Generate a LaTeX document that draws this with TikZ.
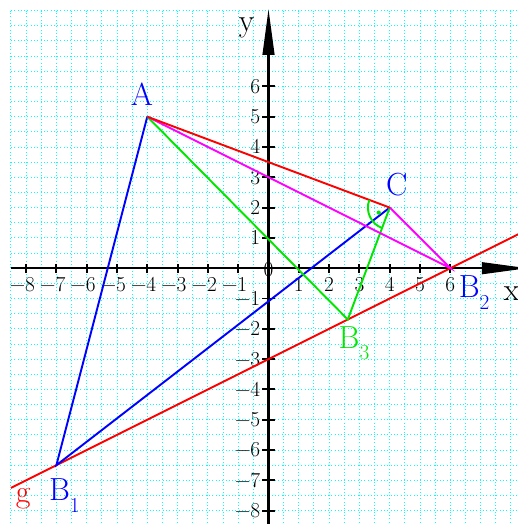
\documentclass[tikz,border=0pt]{standalone}
\usepackage{fontspec}
\usetikzlibrary{arrows.meta}

\definecolor{gridcyan}{RGB}{0,255,255}
\definecolor{segblue}{RGB}{0,0,255}
\definecolor{seggreen}{RGB}{0,230,0}
\definecolor{segmagenta}{RGB}{255,0,255}
\definecolor{segred}{RGB}{255,0,0}

\newcommand{\lowidx}[1]{\raisebox{-0.38cm}{\fontsize{20}{24}\selectfont #1}}

\begin{document}
\begin{tikzpicture}[
  gridline/.style={gridcyan, line width=0.9pt, dash pattern=on 0.9pt off 2.2pt},
  axis/.style={black, line width=2.4pt},
  tickmark/.style={black, line width=1.8pt},
  ticklabel/.style={inner sep=0pt, font=\fontsize{20}{24}\selectfont},
  ptlabel/.style={inner sep=0pt, font=\fontsize{30}{36}\selectfont},
  seg/.style={line width=1.8pt}
]
\useasboundingbox (-8.86,-8.44) rectangle (8.23,8.85);
\clip (-8.86,-8.44) rectangle (8.23,8.85);

% grid and axes
\draw[gridline] (-8.5,-8.5) grid[step=0.5] (8.5,8.5);
\draw[axis, -{Triangle[length=1.52cm, width=0.38cm]}] (-8.5,0) -- (8.56,0);
\draw[axis, -{Triangle[length=1.52cm, width=0.38cm]}] (0,-8.6) -- (0,8.56);

\foreach \k in {1,...,8} {
  \draw[tickmark] (-\k,-0.15) -- (-\k,0.15);
  \draw[tickmark] (-0.2,-\k) -- (0.2,-\k);
  \node[ticklabel, anchor=base] at (-\k-0.12,-0.77) {−\k};
  \node[ticklabel, anchor=base east] at (-0.27,-\k-0.227) {−\k};
}
\foreach \k in {1,...,6} {
  \draw[tickmark] (\k,-0.15) -- (\k,0.15);
  \draw[tickmark] (-0.2,\k) -- (0.2,\k);
  \node[ticklabel, anchor=base] at (\k,-0.77) {\k};
  \node[ticklabel, anchor=base east] at (-0.27,\k-0.227) {\k};
}
\node[ticklabel] (zero) at (0,-0.05) {0};
\node[ptlabel] (laby) at (-0.72,7.93) {y};
\node[ptlabel] (labx) at (8.02,-0.85) {x};

% points
\coordinate (A) at (-4,5);
\coordinate (C) at (4,2);
\coordinate (B1) at (-7,-6.5);
\coordinate (B2) at (6,0);
\coordinate (B3) at (2.6154,-1.6923);
\coordinate (gL) at (-8.5,-7.25);
\coordinate (gR) at (8.5,1.25);

% line g and triangles
\draw[seg, segred] (gL) -- (gR);
\draw[seg, segblue] (A) -- (B1) -- (C);
\draw[seg, seggreen] (A) -- (B3) -- (C);
\draw[seg, segmagenta] (A) -- (B2) -- (C);
\draw[seg, segred] (A) -- (C);

% right angle at C
\draw[seg, seggreen] (C) ++(159.44:0.72) arc[start angle=159.44, end angle=249.44, radius=0.72];
\fill[seggreen] (C) ++(204.44:0.4) circle[radius=0.07];

\node[ptlabel, segblue] (labA) at (-4.18,5.75) {A};
\node[ptlabel, segblue] (labC) at (4.23,2.75) {C};
\node[ptlabel, segblue, anchor=base west] (labB1) at (-7.25,-7.68) {B\lowidx{1}};
\node[ptlabel, segblue, anchor=base west] (labB2) at (6.27,-0.97) {B\lowidx{2}};
\node[ptlabel, seggreen, anchor=base west] (labB3) at (2.31,-2.64) {B\lowidx{3}};
\node[ptlabel, segred] (labg) at (-8.09,-7.6) {g};

\end{tikzpicture}
\end{document}
